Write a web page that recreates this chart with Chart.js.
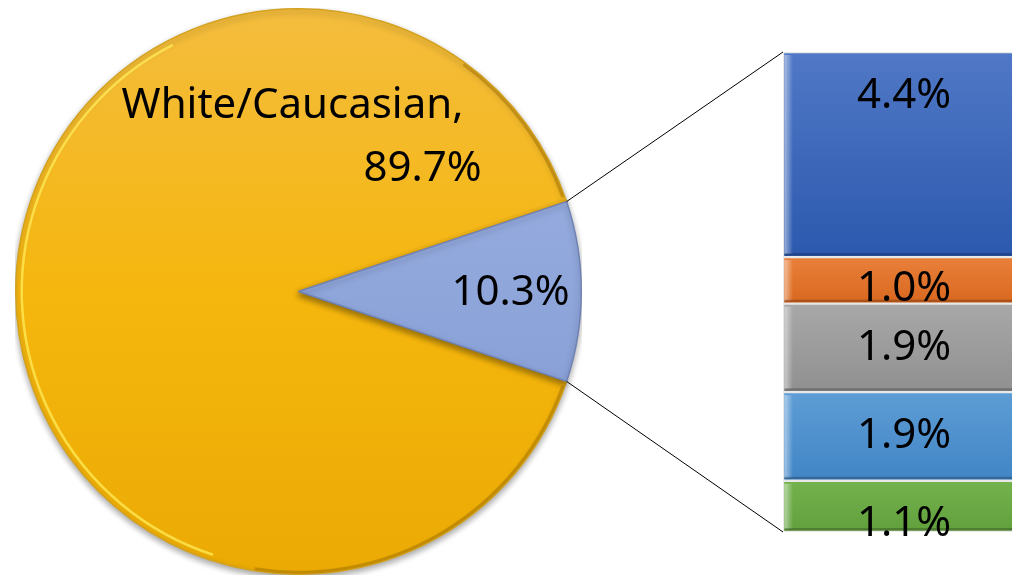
<!DOCTYPE html>
<html>
<head>
<meta charset="utf-8">
<title>Pie of bar</title>
<script src="https://cdn.jsdelivr.net/npm/chart.js@4/dist/chart.umd.min.js"></script>
<style>
  html, body { margin: 0; padding: 0; background: #fff; overflow: hidden; width: 1012px; height: 578px; }
  #wrap { position: relative; width: 1012px; height: 578px; }
  #pie { position: absolute; left: 15px; top: 8px; }
  #bar { position: absolute; left: 783px; top: 52px; }
  #lines { position: absolute; left: 0; top: 0; pointer-events: none; }
</style>
</head>
<body>
<div id="wrap">
  <canvas id="pie" width="567" height="567"></canvas>
  <canvas id="bar" width="242" height="506"></canvas>
  <canvas id="lines" width="1012" height="578"></canvas>
</div>
<script>
// main split
const pieLabels = ['White/Caucasian', 'Other'];
const pieValues = [89.7, 10.3];

// breakdown of "Other", listed top to bottom as in the stacked bar
const otherNames = ['Group 1', 'Group 2', 'Group 3', 'Group 4', 'Group 5'];
const otherValues = [4.4, 1.0, 1.9, 1.9, 1.1];

const FONT = '"Noto Sans", "Open Sans", sans-serif';
const pct = v => v.toFixed(1) + '%';

function pieFill(ctx, idx) {
    const area = ctx.chart.chartArea;
    if (!area) return idx == 0 ? '#f4b512' : '#8fa5da';
    const g = ctx.chart.ctx.createLinearGradient(0, area.top, 0, area.bottom);
    if (idx == 0) {
        g.addColorStop(0, '#f4bd3e');
        g.addColorStop(0.5, '#f5b60e');
        g.addColorStop(1, '#ebab04');
    } else {
        g.addColorStop(0, '#a2b6e6');
        g.addColorStop(0.5, '#8fa6db');
        g.addColorStop(1, '#7e95cf');
    }
    return g;
}

const pieShadow = {
    id: 'pieShadow',
    beforeDatasetsDraw(chart) {
        const c = chart.ctx;
        c.save();
        c.shadowColor = 'rgba(0,0,0,0.35)';
        c.shadowBlur = 6;
        c.shadowOffsetY = 3;
    },
    afterDatasetsDraw(chart) {
        chart.ctx.restore();
        // bevel rim on the big slice: bright inner ring on the left, dark edge on the right
        const c = chart.ctx;
        const a0 = chart.getDatasetMeta(0).data[0];
        const upper = a0.endAngle - 2 * Math.PI;
        c.save();
        c.lineWidth = 2.5;
        c.strokeStyle = 'rgba(255,236,90,0.75)';
        c.beginPath();
        c.arc(a0.x, a0.y, a0.outerRadius - 6, Math.PI * 0.6, Math.PI * 1.35);
        c.stroke();
        c.lineWidth = 3;
        c.strokeStyle = 'rgba(150,105,0,0.45)';
        c.beginPath();
        c.arc(a0.x, a0.y, a0.outerRadius - 2, -Math.PI * 0.3, upper - 0.02);
        c.stroke();
        c.beginPath();
        c.arc(a0.x, a0.y, a0.outerRadius - 2, a0.startAngle + 0.02, Math.PI * 0.55);
        c.stroke();
        c.restore();
    }
};

const pieText = {
    id: 'pieText',
    afterDraw(chart) {
        const c = chart.ctx;
        const arcs = chart.getDatasetMeta(0).data;
        const a0 = arcs[0], a1 = arcs[1];
        c.save();
        c.fillStyle = '#000';
        c.font = '42px ' + FONT;
        c.textAlign = 'center';
        c.textBaseline = 'alphabetic';
        c.fillText(pieLabels[0] + ',', a0.x - 6, a0.y - 174);
        c.fillText(pct(pieValues[0]), a0.x + 124, a0.y - 111);
        const mid = (a1.startAngle + a1.endAngle) / 2;
        const r = a1.outerRadius * 0.75;
        c.textBaseline = 'middle';
        c.fillText(pct(pieValues[1]), a1.x + r * Math.cos(mid), a1.y + r * Math.sin(mid) + 2);
        c.restore();
    }
};

const total = pieValues[0] + pieValues[1];
const pieChart = new Chart(document.getElementById('pie'), {
    type: 'pie',
    data: {
        labels: pieLabels,
        datasets: [{
            data: pieValues,
            backgroundColor: ctx => pieFill(ctx, ctx.dataIndex),
            borderColor: ['#d4a21e', '#6f82b4'],
            borderWidth: 1.5
        }]
    },
    options: {
        responsive: false,
        animation: false,
        rotation: 90 + 360 * pieValues[1] / total / 2,
        layout: { padding: 0 },
        plugins: { legend: { display: false }, tooltip: { enabled: false } }
    },
    plugins: [pieShadow, pieText]
});

// bar colours, top to bottom
const barColors = [
    ['#5078c6', '#2c59ae'],
    ['#e9803a', '#d9681f'],
    ['#a8a8a8', '#909090'],
    ['#5e9dd5', '#4185c6'],
    ['#74b24e', '#62a03d']
];

function barFill(ctx) {
    const k = barColors.length - 1 - ctx.datasetIndex;
    const cols = barColors[k];
    const y = ctx.chart.scales.y;
    if (!y || !ctx.chart.chartArea) return cols[0];
    // stacked bottom-up: datasets below this one
    let lo = 0;
    for (let i = otherValues.length - 1; i > k; i--) lo += otherValues[i];
    const g = ctx.chart.ctx.createLinearGradient(0, y.getPixelForValue(lo + otherValues[k]), 0, y.getPixelForValue(lo));
    g.addColorStop(0, cols[0]);
    g.addColorStop(1, cols[1]);
    return g;
}

const barLabelShift = [-58, 9, 0, 0, 18];

const barText = {
    id: 'barText',
    afterDatasetsDraw(chart) {
        const c = chart.ctx;
        c.save();
        // bevel: light left strip, dark bottom edge
        chart.data.datasets.forEach((ds, di) => {
            const el = chart.getDatasetMeta(di).data[0];
            const left = el.x - el.width / 2;
            const top = el.y, bot = el.base;
            const g = c.createLinearGradient(left, 0, left + 10, 0);
            g.addColorStop(0, 'rgba(255,255,255,0.6)');
            g.addColorStop(1, 'rgba(255,255,255,0)');
            c.fillStyle = g;
            c.fillRect(left + 1.5, top + 3, 10, bot - top - 6);
            c.fillStyle = 'rgba(0,0,0,0.22)';
            c.fillRect(left + 1.5, bot - 4, el.width, 2.5);
        });
        c.fillStyle = '#000';
        c.font = '42px ' + FONT;
        c.textAlign = 'center';
        c.textBaseline = 'middle';
        chart.data.datasets.forEach((ds, di) => {
            const el = chart.getDatasetMeta(di).data[0];
            const k = otherValues.length - 1 - di;
            c.fillText(pct(ds.data[0]), el.x, (el.y + el.base) / 2 + barLabelShift[k]);
        });
        c.restore();
    }
};

const barChart = new Chart(document.getElementById('bar'), {
    type: 'bar',
    data: {
        labels: ['Other'],
        datasets: otherValues.map((v, i) => ({
            label: otherNames[i],
            data: [v],
            backgroundColor: barFill,
            borderColor: 'rgba(232,232,232,0.95)',
            borderWidth: 1.5,
            borderSkipped: false,
            categoryPercentage: 1,
            barPercentage: 1
        })).reverse()
    },
    options: {
        responsive: false,
        animation: false,
        layout: { padding: { top: 0, bottom: 26, left: 0, right: 0 } },
        scales: {
            x: { stacked: true, display: false },
            y: { stacked: true, display: false, min: 0, max: otherValues.reduce((a, b) => a + b, 0) }
        },
        plugins: { legend: { display: false }, tooltip: { enabled: false } }
    },
    plugins: [barText]
});

// connector lines between the "Other" slice and the bar
function drawLines() {
    const lc = document.getElementById('lines').getContext('2d');
    const pieBox = document.getElementById('pie');
    const barBox = document.getElementById('bar');
    const arc = pieChart.getDatasetMeta(0).data[1];
    const n = barChart.data.datasets.length;
    const topEl = barChart.getDatasetMeta(n - 1).data[0];
    const botEl = barChart.getDatasetMeta(0).data[0];
    const px = pieBox.offsetLeft, py = pieBox.offsetTop;
    const bx = barBox.offsetLeft, by = barBox.offsetTop;
    const R = arc.outerRadius;
    lc.strokeStyle = '#000';
    lc.lineWidth = 1;
    lc.beginPath();
    lc.moveTo(px + arc.x + R * Math.cos(arc.startAngle), py + arc.y + R * Math.sin(arc.startAngle));
    lc.lineTo(bx + topEl.x - topEl.width / 2, by + topEl.y);
    lc.moveTo(px + arc.x + R * Math.cos(arc.endAngle), py + arc.y + R * Math.sin(arc.endAngle));
    lc.lineTo(bx + botEl.x - botEl.width / 2, by + botEl.base);
    lc.stroke();
}
drawLines();
</script>
</body>
</html>
